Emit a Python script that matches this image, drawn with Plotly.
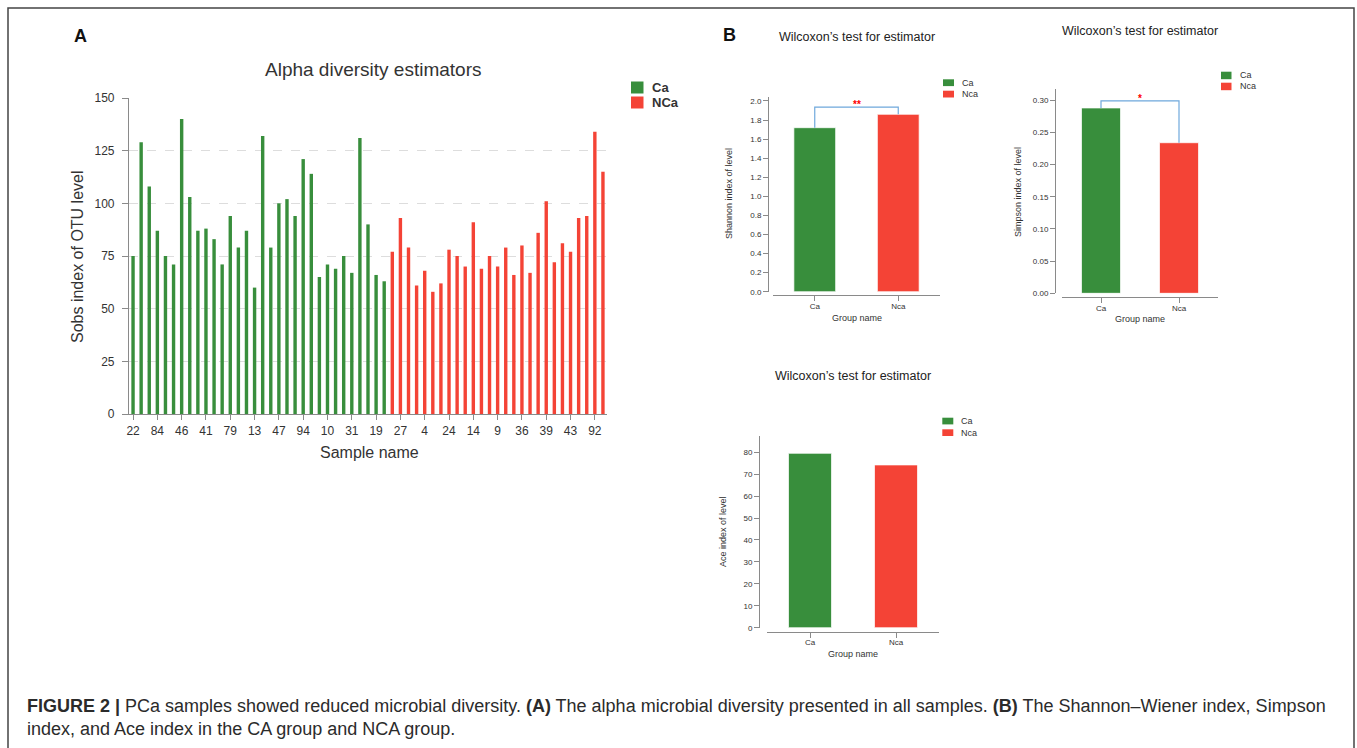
import plotly.graph_objects as go

W, H = 1357, 748

# ---- Panel A: Sobs index of OTU level for every sample ----
ca_sobs = [75, 129, 108, 87, 75, 71, 140, 103, 87, 88, 83, 71, 94, 79, 87, 60,
           132, 79, 100, 102, 94, 121, 114, 65, 71, 69, 75, 67, 131, 90, 66, 63]
nca_sobs = [77, 93, 79, 61, 68, 58, 62, 78, 75, 70, 91, 69, 75, 70, 79, 66,
            80, 67, 86, 101, 72, 81, 77, 93, 94, 134, 115]
sample_ticks = ["22", "84", "46", "41", "79", "13", "47", "94", "10", "31",
                "19", "27", "4", "24", "14", "9", "36", "39", "43", "92"]

# ---- Panel B: group means per estimator ----
groups = ["Ca", "Nca"]
shannon = [1.72, 1.86]
simpson = [0.288, 0.234]
ace = [79.5, 74.2]
shannon_bracket = 1.935
simpson_bracket = 0.299
shannon_sig = "**"
simpson_sig = "*"

GREEN = "#388e3c"
RED = "#f44336"
AXIS = "#8a8a8a"
TXT = "#333333"
FONT = "Liberation Sans, Arial, sans-serif"


def fx(px):
    return px / W


def fy(py):
    return 1 - py / H


n_ca = len(ca_sobs)
n_all = n_ca + len(nca_sobs)

fig = go.Figure()

fig.add_trace(go.Bar(x=list(range(n_ca)), y=ca_sobs, width=0.42, name="Ca",
                     marker=dict(color=GREEN, line=dict(width=0)),
                     xaxis="x", yaxis="y", showlegend=False))
fig.add_trace(go.Bar(x=list(range(n_ca, n_all)), y=nca_sobs, width=0.42, name="NCa",
                     marker=dict(color=RED, line=dict(width=0)),
                     xaxis="x", yaxis="y", showlegend=False))


def group_panel(values, ax, bracket=None):
    xa, ya = "x" + ax, "y" + ax
    for g, v, c in zip(groups, values, [GREEN, RED]):
        fig.add_trace(go.Bar(x=[g], y=[v], width=0.5, name=g,
                             marker=dict(color=c, line=dict(color="rgba(255,255,255,0.7)", width=1)),
                             xaxis=xa, yaxis=ya, showlegend=False))
    if bracket is not None:
        fig.add_trace(go.Scatter(x=[groups[0], groups[0], groups[1], groups[1]],
                                 y=[values[0], bracket, bracket, values[1]],
                                 mode="lines", line=dict(color="#6fa8dc", width=1.2),
                                 xaxis=xa, yaxis=ya, showlegend=False, hoverinfo="skip"))


group_panel(shannon, "2", shannon_bracket)
group_panel(simpson, "3", simpson_bracket)
group_panel(ace, "4")


def small_x(dom, ypos):
    return dict(domain=[fx(dom[0]), fx(dom[1])], anchor="free", position=fy(ypos),
                type="category", categoryorder="array", categoryarray=groups,
                range=[-0.5, 1.5], showline=True, linecolor=AXIS, linewidth=1,
                ticks="outside", ticklen=5, tickcolor=AXIS, ticklabelstandoff=-2,
                tickfont=dict(size=8, color=TXT, family=FONT), showgrid=False, zeroline=False)


def small_y(dom, xpos, rng, dtick, fmt):
    return dict(domain=[fy(dom[0]), fy(dom[1])], anchor="free", position=fx(xpos),
                range=rng, dtick=dtick, tickformat=fmt, showline=True, linecolor=AXIS,
                linewidth=1, ticks="outside", ticklen=5, tickcolor=AXIS,
                tickfont=dict(size=8, color=TXT, family=FONT), showgrid=False, zeroline=False)


fig.update_layout(
    width=W, height=H, margin=dict(l=0, r=0, t=0, b=0, autoexpand=False),
    paper_bgcolor="white", plot_bgcolor="rgba(0,0,0,0)",
    barmode="overlay", font=dict(family=FONT, color=TXT),
    xaxis=dict(domain=[fx(129), fx(607)], anchor="y", range=[-0.5, n_all - 0.5],
               tickmode="array", tickvals=list(range(0, n_all, 3)), ticktext=sample_ticks,
               ticks="outside", ticklen=5, tickcolor=AXIS, showline=True, linecolor=AXIS,
               linewidth=1.2, showgrid=False, zeroline=False,
               tickfont=dict(size=12, color=TXT)),
    yaxis=dict(domain=[fy(414), fy(98)], anchor="x", range=[0, 150], dtick=25,
               showgrid=True, gridcolor="#dddddd", griddash="dash", gridwidth=1,
               ticks="outside", ticklen=6, tickcolor=AXIS, showline=True, linecolor=AXIS,
               linewidth=1.2, zeroline=False, ticklabelstandoff=5,
               tickfont=dict(size=12, color=TXT)),
    xaxis2=small_x((773, 940), 295),
    yaxis2=small_y((291.7, 96.7), 768, [0, 2.045], 0.2, ".1f"),
    xaxis3=small_x((1062, 1218), 297),
    yaxis3=small_y((293.3, 89), 1055, [0, 0.3175], 0.05, ".2f"),
    xaxis4=small_x((767, 939), 631.7),
    yaxis4=small_y((627.7, 436), 759, [0, 87.4], 10, "d"),
)

ann = []


def text(x, y, s, size, color=TXT, angle=0, xanchor="center"):
    ann.append(dict(x=fx(x), y=fy(y), xref="paper", yref="paper", text=s, showarrow=False,
                    textangle=angle, xanchor=xanchor, yanchor="middle",
                    font=dict(size=size, color=color, family=FONT)))


# Panel letters
text(80, 36, "<b>A</b>", 18, color="#111")
text(729, 35, "<b>B</b>", 18, color="#111")

# Panel A labels
text(373, 69, "Alpha diversity estimators", 19)
text(78, 257, "Sobs index of OTU level", 16, angle=-90)
text(369, 452, "Sample name", 16)

# Panel B labels
text(857, 37, "Wilcoxon’s test for estimator", 12.5, color="#222")
text(729, 194, "Shannon index of level", 9, angle=-90)
text(857, 318, "Group name", 9)

text(1140, 31, "Wilcoxon’s test for estimator", 12.5, color="#222")
text(1018, 192, "Simpson index of level", 9, angle=-90)
text(1140, 319, "Group name", 9)

text(853, 376, "Wilcoxon’s test for estimator", 12.5, color="#222")
text(723, 532, "Ace index of level", 9, angle=-90)
text(853, 654, "Group name", 9)

# Significance marks over the brackets
for ax, lvl, sig in [("2", shannon_bracket, shannon_sig), ("3", simpson_bracket, simpson_sig)]:
    ann.append(dict(x=0.5, y=lvl, xref="x" + ax, yref="y" + ax, text="<b>" + sig + "</b>",
                    showarrow=False, yanchor="bottom", yshift=-5,
                    font=dict(size=10, color="#ff0000", family=FONT)))

# Legends
shapes = []


def legend(x0, y0, w, h, gap, labels, size, bold=False):
    for i, (lab, col) in enumerate(zip(labels, [GREEN, RED])):
        top = y0 + i * gap
        shapes.append(dict(type="rect", xref="paper", yref="paper",
                           x0=fx(x0), x1=fx(x0 + w), y0=fy(top + h), y1=fy(top),
                           fillcolor=col, line=dict(width=0)))
        label = "<b>" + lab + "</b>" if bold else lab
        text(x0 + w + 6, top + h / 2, label, size, xanchor="left")


legend(631, 81.5, 12.5, 12, 15, ["Ca", "NCa"], 13, bold=True)
legend(943, 79.3, 11, 6.8, 11.4, groups, 9)
legend(1221, 71.7, 10.5, 7.5, 11, groups, 9)
legend(942.3, 417.7, 11, 6.7, 11.6, groups, 9)

# Caption
cap1 = ("<b>FIGURE 2 |</b> PCa samples showed reduced microbial diversity. <b>(A)</b> The alpha "
        "microbial diversity presented in all samples. <b>(B)</b> The Shannon–Wiener index, Simpson")
cap2 = "index, and Ace index in the CA group and NCA group."
text(25, 706, cap1, 18, color="#2b2b2b", xanchor="left")
text(25, 729, cap2, 18, color="#2b2b2b", xanchor="left")

# Figure frame
shapes.append(dict(type="rect", xref="paper", yref="paper", x0=fx(8), x1=fx(1354),
                   y0=-0.1, y1=fy(8), line=dict(color="#444", width=1.5)))

fig.update_layout(annotations=ann, shapes=shapes)

fig.write_html("out.html")
